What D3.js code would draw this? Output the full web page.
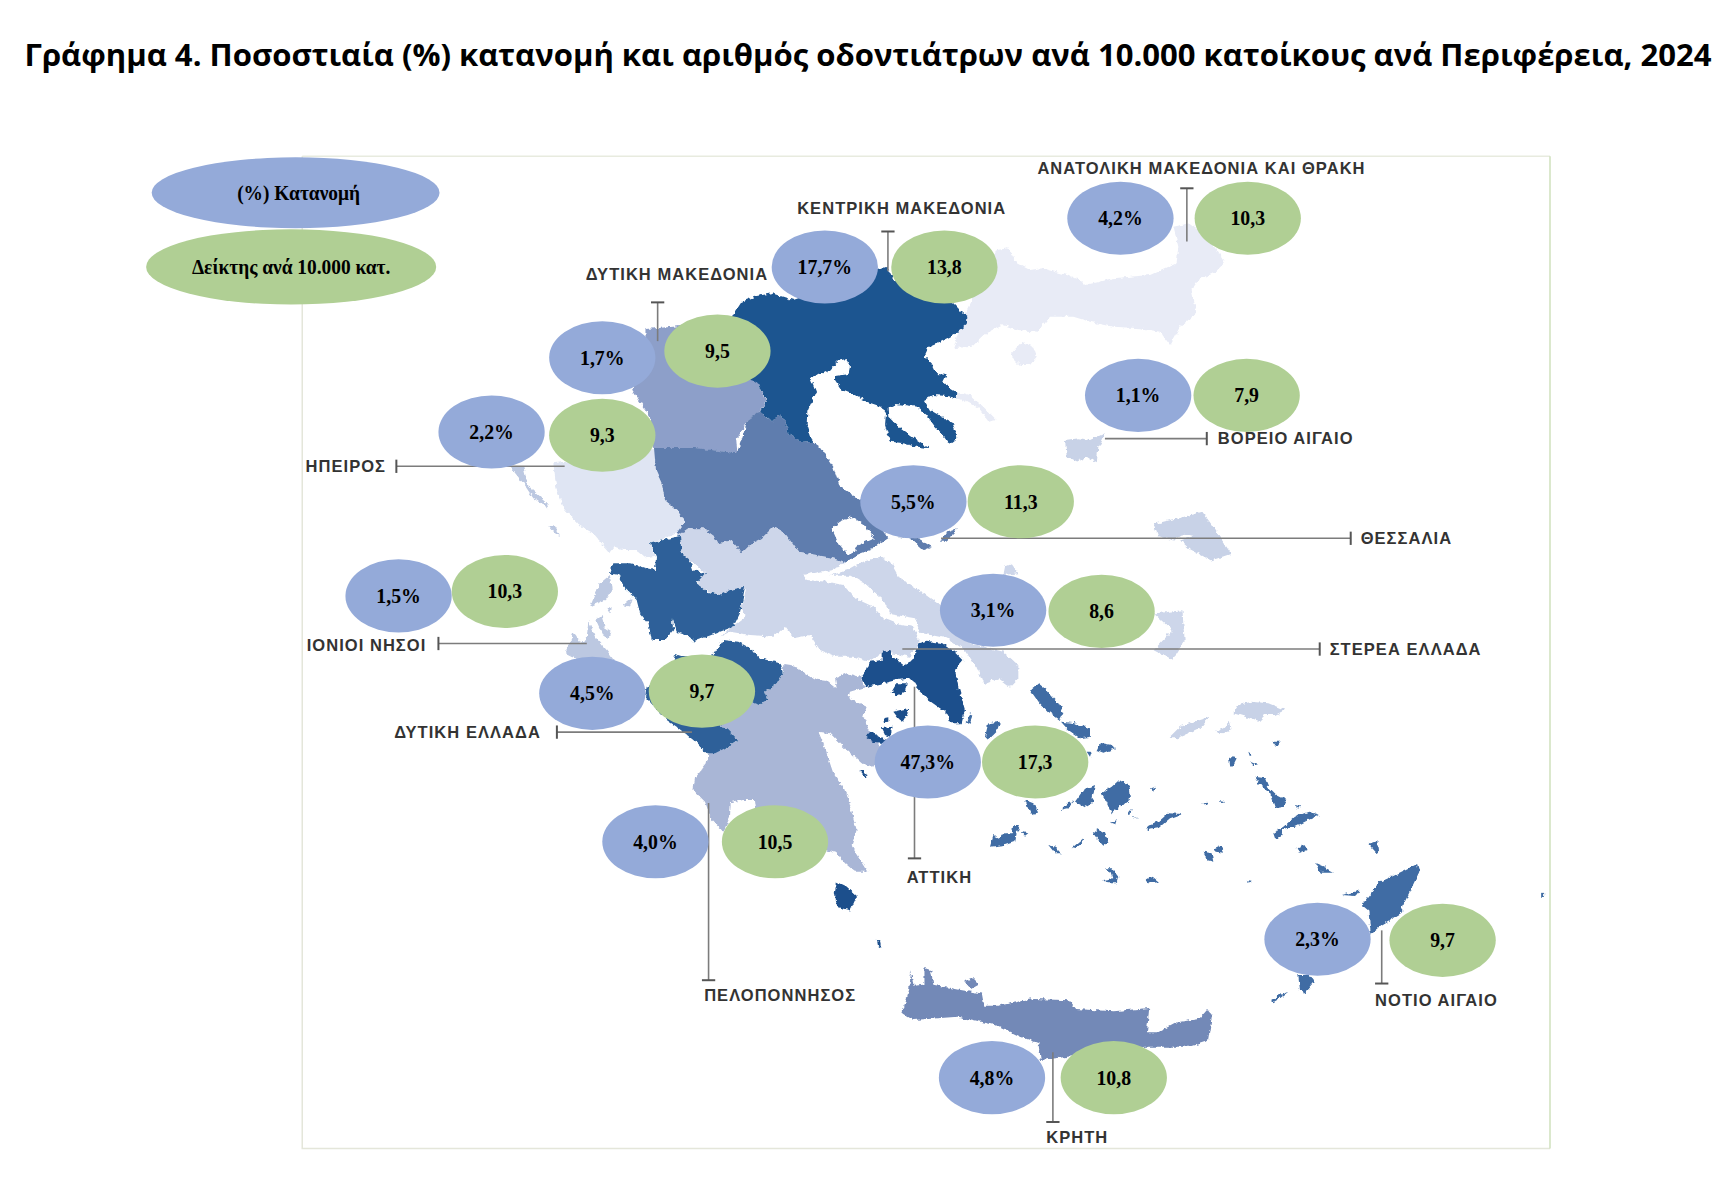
<!DOCTYPE html>
<html lang="el">
<head>
<meta charset="utf-8">
<title>Γράφημα 4</title>
<script src="https://cdn.jsdelivr.net/npm/d3@7"></script>
<style>
  body { margin: 0; background: #fff; }
  svg { display: block; }
</style>
</head>
<body>
<svg id="chart"></svg>
<script>
const titleText = 'Γράφημα 4. Ποσοστιαία (%) κατανομή και αριθμός οδοντιάτρων ανά 10.000 κατοίκους ανά Περιφέρεια, 2024'
const legendLabels = ['(%) Κατανομή', 'Δείκτης ανά 10.000 κατ.']

// values
const regions = ['ΑΝΑΤΟΛΙΚΗ ΜΑΚΕΔΟΝΙΑ ΚΑΙ ΘΡΑΚΗ', 'ΚΕΝΤΡΙΚΗ ΜΑΚΕΔΟΝΙΑ', 'ΔΥΤΙΚΗ ΜΑΚΕΔΟΝΙΑ', 'ΗΠΕΙΡΟΣ', 'ΒΟΡΕΙΟ ΑΙΓΑΙΟ', 'ΘΕΣΣΑΛΙΑ', 'ΙΟΝΙΟΙ ΝΗΣΟΙ', 'ΣΤΕΡΕΑ ΕΛΛΑΔΑ', 'ΔΥΤΙΚΗ ΕΛΛΑΔΑ', 'ΑΤΤΙΚΗ', 'ΠΕΛΟΠΟΝΝΗΣΟΣ', 'ΝΟΤΙΟ ΑΙΓΑΙΟ', 'ΚΡΗΤΗ']
const shares = [4.2, 17.7, 1.7, 2.2, 1.1, 5.5, 1.5, 3.1, 4.5, 47.3, 4.0, 2.3, 4.8]
const densities = [10.3, 13.8, 9.5, 9.3, 7.9, 11.3, 10.3, 8.6, 9.7, 17.3, 10.5, 9.7, 10.8]

// region outlines, traced per map tile (each tile has its own scales below)
const thrakiB = [
  [[140,150],[175,145],[200,190],[240,210],[275,205],[330,220],[385,235],[405,255],[450,245],[490,235],[600,225],[680,190],[685,140],[670,80],[720,70],[760,100],[800,150],[825,190],[800,215],[745,240],[725,270],[740,340],[690,380],[660,435],[630,395],[570,385],[490,380],[420,365],[370,350],[300,350],[265,395],[205,390],[160,375],[110,400],[65,440],[10,445],[40,350]],
  [[180,465],[215,425],[250,440],[260,470],[240,495],[210,495]],
  [[25,575],[60,585],[100,620],[140,660],[115,665],[85,625],[50,605],[20,595]]
]
const voreioB = [
  [[345,720],[385,715],[420,720],[465,700],[445,745],[440,790],[410,770],[380,785],[350,770]]
]
const voreioOv = [
  [[1042,473],[1068,467],[1086,462],[1094,473],[1112,500],[1094,506],[1075,496],[1066,488],[1078,484],[1070,482],[1060,488],[1046,484]]
]
const voreioD = [
  [[580,205],[615,170],[655,155],[705,140],[680,170],[640,190],[605,205]],
  [[775,130],[790,105],[830,95],[880,100],[930,120],[900,135],[870,135],[850,155],[810,140]],
  [[720,185],[745,175],[765,155],[770,180],[745,190]]
]
const ipeirosC = [
  [[190,40],[540,-10],[498,62],[515,100],[525,150],[560,180],[585,215],[560,250],[520,268],[480,280],[495,320],[470,325],[440,300],[400,300],[375,290],[360,310],[310,250],[265,225],[220,170],[200,120]]
]
const ioniaC = [
  [[60,50],[100,50],[115,110],[170,160],[175,175],[130,145],[100,100]],
  [[175,225],[190,225],[210,258],[195,250]],
  [[300,470],[330,400],[360,375],[365,420],[345,450],[310,465]],
  [[400,465],[425,445],[420,470]],
  [[350,470],[365,475],[362,490]],
  [[225,610],[250,550],[270,575],[290,570],[295,510],[315,560],[350,600],[375,635],[300,640],[240,620]],
  [[318,510],[335,498],[345,535],[362,545],[355,568],[338,555]]
]
const stereaA = [
  [[20,70],[25,75],[55,55],[100,55],[135,80],[145,100],[185,90],[215,130],[245,100],[275,85],[310,50],[345,70],[385,125],[440,135],[490,145],[530,155],[500,175],[450,185],[400,195],[410,210],[470,215],[520,225],[555,265],[610,290],[640,325],[690,345],[730,350],[745,385],[745,400],[720,440],[640,425],[595,455],[550,440],[500,440],[450,420],[420,375],[370,385],[345,350],[310,380],[240,375],[180,365],[150,380],[180,355],[225,320],[215,290],[228,238],[205,240],[165,255],[130,250],[90,235],[85,205],[105,190],[70,160],[30,130]],
  [[480,197],[540,178],[580,155],[630,140],[665,160],[690,205],[760,250],[830,300],[900,400],[1000,425],[1045,465],[1045,505],[1020,530],[985,505],[940,522],[925,480],[885,420],[830,385],[750,368],[735,325],[660,312],[640,270],[590,225],[545,197]],
  [[1000,195],[1005,170],[1025,162],[1045,190]]
]
const stereaOv = [
  [[1042,554],[1068,551],[1070,578],[1059,596],[1042,587],[1059,569]]
]
const peloA = [
  [[340,465],[375,470],[430,505],[470,510],[500,535],[495,505],[530,490],[570,500],[580,525],[590,530],[540,545],[535,565],[590,590],[580,620],[600,665],[640,720],[610,770],[575,760],[530,720],[480,670],[445,665],[460,700],[490,790],[530,850],[560,960],[545,1005],[595,1085],[555,1085],[525,1060],[500,1030],[400,1000],[300,960],[258,895],[255,870],[215,870],[182,880],[180,920],[160,965],[125,930],[105,875],[70,840],[75,805],[110,760],[115,730],[165,715],[205,690],[170,655],[145,650],[250,575],[265,585],[295,570],[285,545],[320,520],[338,490]]
]
const dytikiMakOv = [
  [[583,297],[608,295],[656,289],[686,348],[692,363],[686,372],[676,379],[665,397],[666,409],[628,405],[608,406],[591,405],[587,376],[571,352],[583,331]]
]
const thessaliaA = [
  [[-42,-118],[-48,-186],[75,-186],[201,-171],[234,-271],[268,-295],[305,-265],[325,-285],[345,-270],[355,-230],[395,-202],[428,-205],[450,-190],[490,-130],[510,-70],[570,-30],[620,10],[640,65],[655,85],[600,120],[560,135],[530,158],[490,145],[440,135],[385,125],[345,70],[310,50],[275,85],[245,100],[215,130],[185,90],[145,100],[135,80],[100,55],[55,55],[25,75],[20,70],[45,35],[20,0],[-15,-30],[-25,-80]],
  [[485,55],[510,35],[545,20],[585,45],[612,85],[565,105],[555,125],[535,135],[505,100]],
  [[680,80],[720,85],[760,120],[785,110],[735,80]],
  [[810,95],[830,65],[860,55],[850,75],[825,95]]
]
const aitoloC = [
  [[360,370],[370,340],[420,340],[440,345],[470,355],[495,360],[498,320],[480,280],[520,270],[570,258],[575,310],[600,330],[610,360],[645,370],[620,400],[650,425],[690,435],[720,420],[765,410],[750,490],[730,530],[690,545],[610,575],[590,555],[560,545],[545,505],[550,540],[525,570],[485,570],[475,520],[450,490],[440,450],[400,410],[385,375]]
]
const achaiaA = [
  [[15,432],[45,442],[125,440],[160,390],[205,395],[250,420],[270,445],[330,460],[338,490],[320,520],[285,545],[295,570],[265,585],[250,575],[145,650],[170,655],[205,690],[165,715],[135,730],[110,730],[70,690],[20,650],[-10,630],[-75,560],[-70,530],[0,500]]
]
const kentrikiE = [
  [[500,-10],[520,30],[600,70],[700,100],[725,125],[742,140],[740,165],[715,185],[690,200],[660,215],[625,230],[612,258],[635,280],[645,300],[655,312],[680,315],[670,335],[690,355],[712,368],[710,385],[680,378],[640,375],[612,390],[630,420],[665,440],[695,455],[710,490],[712,505],[690,522],[670,495],[645,470],[620,435],[590,410],[530,402],[503,415],[505,440],[540,475],[590,510],[628,535],[590,530],[540,518],[510,515],[495,465],[498,430],[485,410],[440,395],[395,372],[365,360],[345,330],[345,318],[385,312],[390,290],[375,268],[355,272],[330,300],[310,310],[295,308],[272,325],[288,365],[262,425],[260,460],[278,515],[245,518],[205,490],[195,450],[175,435],[155,455],[120,425],[140,395],[118,345],[80,320],[30,150],[65,95],[110,78],[155,70],[220,90]]
]
const attikiA = [
  [[572,505],[590,480],[600,455],[635,450],[635,425],[660,420],[668,440],[700,465],[730,450],[745,400],[770,392],[820,400],[860,430],[880,450],[855,480],[865,530],[885,600],[875,640],[845,640],[825,605],[775,570],[740,530],[725,505],[680,510],[640,520],[590,530]],
  [[665,545],[680,520],[710,520],[705,545],[680,558]],
  [[670,605],[700,598],[718,600],[700,635],[685,625]],
  [[640,625],[655,622],[655,635],[642,637]],
  [[588,680],[600,665],[630,680],[650,690],[640,700],[610,695]],
  [[635,655],[668,650],[660,680],[645,675]],
  [[568,782],[580,780],[590,800],[578,795]]
]
const attikiOv = [
  [[756,796],[764,800],[774,809],[768,822],[756,819],[754,806]],
  [[792,848],[795,851],[796,856],[793,854]]
]
const notioA = [
  [[890,640],[900,610],[908,615],[897,645]]
]
const notioD = [
  [[165,60],[190,40],[215,60],[250,100],[265,130],[255,150],[220,125],[190,95]],
  [[258,155],[300,160],[345,175],[345,200],[315,205],[280,180]],
  [[365,240],[375,218],[410,225],[420,235],[385,248]],
  [[335,245],[350,245],[345,260]],
  [[30,200],[40,160],[75,155],[65,185],[40,210]],
  [[300,395],[325,360],[360,345],[350,400],[330,412]],
  [[255,420],[285,395],[295,395],[280,415]],
  [[380,370],[410,350],[435,328],[460,345],[465,385],[445,405],[410,430],[395,395]],
  [[150,390],[175,400],[190,425],[178,440],[165,425]],
  [[45,530],[55,495],[75,505],[85,490],[110,490],[115,465],[135,465],[125,490],[120,515],[90,525]],
  [[140,485],[160,490],[150,497]],
  [[515,480],[515,465],[550,455],[580,430],[620,432],[585,445],[550,475]],
  [[355,490],[370,478],[390,490],[400,515],[385,527],[365,505]],
  [[290,535],[325,505],[320,520],[300,537]],
  [[220,525],[240,530],[258,550],[240,550]],
  [[390,595],[410,595],[430,620],[425,640],[395,640],[385,630],[415,625],[410,610]],
  [[512,630],[530,620],[550,637],[525,640]],
  [[405,460],[425,450],[420,465]],
  [[460,425],[470,420],[465,435]],
  [[470,440],[490,445],[475,445]],
  [[525,355],[540,350],[535,365]],
  [[685,545],[710,550],[715,575],[695,570]],
  [[715,535],[735,525],[750,548],[725,545]],
  [[840,320],[870,325],[880,350],[905,375],[935,390],[925,410],[900,415],[885,370],[860,350]],
  [[762,260],[785,265],[775,285],[765,290]],
  [[820,245],[833,255],[825,260]],
  [[825,275],[850,285],[835,285]],
  [[895,215],[915,215],[905,230]],
  [[895,490],[925,470],[960,440],[1000,425],[1035,435],[1000,450],[960,470],[925,480],[915,505],[900,505]],
  [[955,405],[975,408],[970,416]],
  [[965,535],[985,525],[995,540],[975,548]],
  [[1025,580],[1050,590],[1050,605],[1030,600]],
  [[685,400],[700,398],[692,406]],
  [[735,390],[752,393],[740,398]],
  [[815,630],[830,632],[825,638]],
  [[970,915],[1005,915],[1020,935],[990,970],[975,960]],
  [[888,990],[915,975],[940,965],[915,985],[895,997]]
]
const notioOv = [
  [[1236,762],[1244,759],[1245,772]],
  [[1188,780],[1204,788],[1194,788]],
  [[1280,780],[1282,787],[1268,816],[1266,824],[1248,835],[1238,843],[1236,822],[1230,817],[1246,796],[1264,788]],
  [[1212,808],[1228,804],[1224,809]],
  [[1392,805],[1395,808],[1392,811]]
]
const kritiOv = [
  [[815,915],[821,894],[823,877],[825,890],[835,889],[835,874],[841,876],[843,889],[869,894],[887,897],[889,908],[901,908],[934,902],[966,903],[972,911],[1006,913],[1038,910],[1036,932],[1046,932],[1063,923],[1083,920],[1091,911],[1095,916],[1091,940],[1075,945],[1034,945],[1000,950],[940,957],[938,942],[922,936],[901,926],[865,918],[825,921]],
  [[871,886],[878,883],[884,889],[877,893]]
]

const width = 1736
const height = 1184
const blue = '#94aad9'
const green = '#b0cf94'
const ink = '#333'

// picture space used for the bubbles, leaders and labels
const x = d3.scaleLinear().domain([0, 1568]).range([0, width])
const y = d3.scaleLinear().domain([0, 1069]).range([0, height])
const ringPath = d3.line().x((d) => x(d[0])).y((d) => y(d[1]))

// tile scales, 3 tile units to the page pixel
const tile = (x0, y0) => {
  const tx = d3.scaleLinear().domain([0, 3]).range([x0, x0 + 1])
  const ty = d3.scaleLinear().domain([0, 3]).range([y0, y0 + 1])
  return d3.line().x((d) => tx(d[0])).y((d) => ty(d[1]))
}
const tileA = tile(670, 510)
const tileB = tile(950, 200)
const tileC = tile(490, 450)
const tileD = tile(975, 670)
const tileE = tile(720, 270)

// drawing order, palest regions first
const layers = [
  [thrakiB, tileB, '#e8ebf6'],
  [voreioB, tileB, '#c8d2e7'],
  [voreioOv, ringPath, '#c8d2e7'],
  [voreioD, tileD, '#c8d2e7'],
  [ipeirosC, tileC, '#dfe5f3'],
  [ioniaC, tileC, '#bcc8e1'],
  [stereaA, tileA, '#cdd6ea'],
  [stereaOv, ringPath, '#cdd6ea'],
  [peloA, tileA, '#a9b6d6'],
  [dytikiMakOv, ringPath, '#8d9fc9'],
  [thessaliaA, tileA, '#5f7dae'],
  [aitoloC, tileC, '#2d6199'],
  [achaiaA, tileA, '#2d6199'],
  [kentrikiE, tileE, '#1f5590'],
  [attikiA, tileA, '#1c4f8c'],
  [attikiOv, ringPath, '#1c4f8c'],
  [notioA, tileA, '#3f6ca4'],
  [notioD, tileD, '#3f6ca4'],
  [notioOv, ringPath, '#3f6ca4'],
  [kritiOv, ringPath, '#7389b7']
]

const fmt = d3.formatLocale({ decimal: ',', thousands: '.', grouping: [3], currency: ['', '€'] }).format('.1f')

const svg = d3.select('#chart').attr('width', width).attr('height', height).attr('viewBox', [0, 0, width, height])

// rough, slightly soft coastlines like the scanned map
const soft = svg.append('defs').append('filter').attr('id', 'soft')
  .attr('x', '-5%').attr('y', '-5%').attr('width', '110%').attr('height', '110%')
soft.append('feTurbulence').attr('type', 'fractalNoise').attr('baseFrequency', 0.22)
  .attr('numOctaves', 2).attr('seed', 4).attr('result', 'noise')
soft.append('feDisplacementMap').attr('in', 'SourceGraphic').attr('in2', 'noise')
  .attr('scale', 5).attr('xChannelSelector', 'R').attr('yChannelSelector', 'G').attr('result', 'rough')
soft.append('feGaussianBlur').attr('in', 'rough').attr('stdDeviation', 0.55)

// title
svg.append('text')
  .attr('x', x(784))
  .attr('y', y(60))
  .attr('text-anchor', 'middle')
  .attr('textLength', 1687)
  .attr('lengthAdjust', 'spacingAndGlyphs')
  .attr('font-family', '"Open Sans", sans-serif')
  .attr('font-weight', 700)
  .attr('font-size', 31)
  .attr('fill', '#000')
  .text(titleText)

// frame around the map
svg.append('path')
  .attr('d', ringPath([[273, 141], [1400, 141]]))
  .attr('fill', 'none').attr('stroke', '#e8ebdf').attr('stroke-width', 1.5)
svg.append('path')
  .attr('d', ringPath([[273, 141], [273, 1037], [1400, 1037]]))
  .attr('fill', 'none').attr('stroke', '#e4e6da').attr('stroke-width', 1.5)
svg.append('path')
  .attr('d', ringPath([[1400, 141], [1400, 1037]]))
  .attr('fill', 'none').attr('stroke', '#cfe0bd').attr('stroke-width', 1.5)

// map
svg.append('g').attr('filter', 'url(#soft)')
  .selectAll('path')
  .data(layers)
  .join('path')
  .attr('d', (d) => d[0].map((r) => d[1](r) + 'Z').join(''))
  .attr('fill-rule', 'evenodd')
  .attr('fill', (d) => d[2])

// leaders: [x1, y1, x2, y2] with the end cap on the second point
const leaders = [
  [1072, 218, 1072, 170], [802, 245, 802, 209], [594, 308, 594, 273], [510, 421, 358, 421],
  [998, 396, 1090, 396], [850, 486, 1220, 486], [530, 581, 396, 581], [815, 586, 1192, 586],
  [625, 661, 503, 661], [826, 620, 826, 775], [640, 725, 640, 885], [1248, 840, 1248, 888], [951, 950, 951, 1013]
]
const capSize = 6
const leaderG = svg.append('g').attr('stroke', '#7c7c7c').attr('stroke-width', 1.6).attr('fill', 'none')
leaderG.selectAll('path.stem')
  .data(leaders)
  .join('path')
  .attr('class', 'stem')
  .attr('d', (d) => ringPath([[d[0], d[1]], [d[2], d[3]]]))
leaderG.selectAll('path.cap')
  .data(leaders)
  .join('path')
  .attr('class', 'cap')
  .attr('stroke', '#555')
  .attr('stroke-width', 2)
  .attr('d', (d) => d[0] === d[2]
    ? ringPath([[d[2] - capSize, d[3]], [d[2] + capSize, d[3]]])
    : ringPath([[d[2], d[3] - capSize], [d[2], d[3] + capSize]]))

// region labels: left edge and baseline
const labelSpots = [
  [937, 157], [720, 193], [529, 253], [276, 426], [1100, 401], [1229, 491], [277, 588],
  [1201, 591], [356, 666], [819, 797], [636, 904], [1242, 908], [945, 1032]
]
svg.append('g')
  .selectAll('text')
  .data(regions)
  .join('text')
  .attr('x', (d, i) => x(labelSpots[i][0]))
  .attr('y', (d, i) => y(labelSpots[i][1]))
  .attr('font-family', '"Liberation Sans", Arial, sans-serif')
  .attr('font-weight', 700)
  .attr('font-size', 16.5)
  .attr('letter-spacing', 1.05)
  .attr('fill', ink)
  .text((d) => d)

// bubbles: blue centre, green centre
const blueSpots = [[1012, 197], [745, 241], [544, 323], [444, 390], [1028, 357], [825, 453], [360, 538], [897, 551], [535, 626], [838, 688], [592, 760], [1190, 848], [896, 973]]
const greenSpots = [[1127, 197], [853, 241], [648, 317], [544, 393], [1126, 357], [922, 453], [456, 534], [995, 552], [634, 624], [935, 688], [700, 760], [1303, 849], [1006, 973]]
const bubbleRx = 48
const bubbleRy = 33

function drawBubbles(values, spots, fill, label) {
  const g = svg.append('g')
  g.selectAll('ellipse')
    .data(values)
    .join('ellipse')
    .attr('cx', (d, i) => x(spots[i][0]))
    .attr('cy', (d, i) => y(spots[i][1]))
    .attr('rx', x(bubbleRx))
    .attr('ry', y(bubbleRy))
    .attr('fill', fill)
  g.selectAll('text')
    .data(values)
    .join('text')
    .attr('x', (d, i) => x(spots[i][0]))
    .attr('y', (d, i) => y(spots[i][1]) + 7)
    .attr('text-anchor', 'middle')
    .attr('font-family', '"Liberation Serif", "Times New Roman", serif')
    .attr('font-weight', 700)
    .attr('font-size', 22)
    .attr('fill', '#000')
    .text(label)
    .attr('lengthAdjust', 'spacingAndGlyphs')
    .attr('textLength', function () { return this.getComputedTextLength() * 0.9 })
}
drawBubbles(shares, blueSpots, blue, (d) => fmt(d) + '%')
drawBubbles(densities, greenSpots, green, (d) => fmt(d))

// legend
const legendSpots = [[267, 174, 130, 32], [263, 241, 131, 34]]
const legendFills = [blue, green]
const legend = svg.append('g')
legend.selectAll('ellipse')
  .data(legendLabels)
  .join('ellipse')
  .attr('cx', (d, i) => x(legendSpots[i][0]))
  .attr('cy', (d, i) => y(legendSpots[i][1]))
  .attr('rx', (d, i) => x(legendSpots[i][2]))
  .attr('ry', (d, i) => y(legendSpots[i][3]))
  .attr('fill', (d, i) => legendFills[i])
legend.selectAll('text')
  .data(legendLabels)
  .join('text')
  .attr('x', (d, i) => x(legendSpots[i][0]) + (i === 0 ? 3 : 0))
  .attr('y', (d, i) => y(legendSpots[i][1]) + 7)
  .attr('text-anchor', 'middle')
  .attr('font-family', '"Liberation Serif", "Times New Roman", serif')
  .attr('font-weight', 700)
  .attr('font-size', 20)
  .attr('fill', '#000')
  .text((d) => d)
  .attr('lengthAdjust', 'spacingAndGlyphs')
  .attr('textLength', function () { return this.getComputedTextLength() * 0.97 })
</script>
</body>
</html>
